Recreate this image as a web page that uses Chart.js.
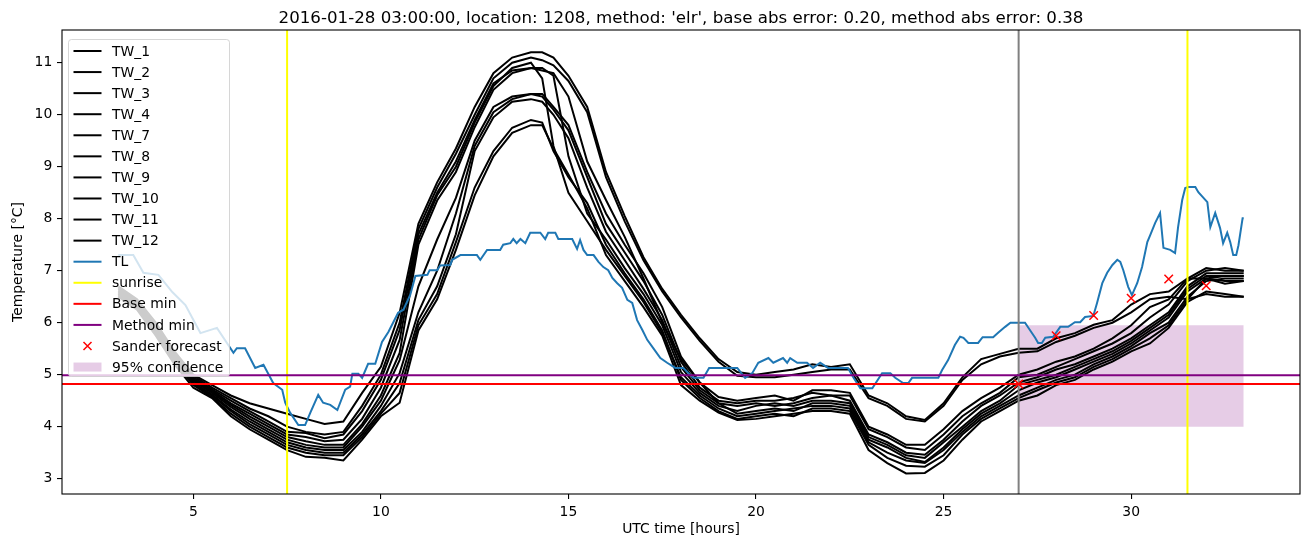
<!DOCTYPE html>
<html><head><meta charset="utf-8">
<script src="https://cdn.jsdelivr.net/npm/chart.js@4.4.0/dist/chart.umd.min.js"></script>
<style>html,body{margin:0;padding:0;background:#fff;}canvas{display:block;}</style>
</head><body>
<canvas id="c" width="1311" height="547"></canvas>
<script>
// ---------------- data ----------------
const titleText = "2016-01-28 03:00:00, location: 1208, method: 'elr', base abs error: 0.20, method abs error: 0.38";
const xTicks = [5, 10, 15, 20, 25, 30];
const yTicks = [3, 4, 5, 6, 7, 8, 9, 10, 11];
const xLimits = [1.5, 34.5];
const yLimits = [2.705, 11.63];

const hours = [3,3.5,4,4.5,5,5.5,6,6.5,7,7.5,8,8.5,9,9.5,10,10.5,11,11.5,12,12.5,13,13.5,14,14.3,14.6,
  15,15.5,16,16.5,17,17.5,18,18.5,19,19.5,20,20.5,21,21.5,22,22.5,23,23.5,24,24.5,
  25,25.5,26,26.5,27,27.5,28,28.5,29,29.5,30,30.5,31,31.5,32,32.5,33];

const TW_1 = [6.70,6.45,6.00,5.45,5.00,4.80,4.60,4.45,4.35,4.25,4.15,4.05,4.10,4.65,5.15,6.19,
  7.9,8.7,9.35,10.15,10.8,11.1,11.2,11.2,11.1,
  10.75,10.15,8.9,8.05,7.26,6.65,6.15,5.7,5.3,5.05,
  5.0,5.05,5.1,5.2,5.15,5.2,4.6,4.45,4.2,4.13,
  4.45,4.95,5.3,5.4,5.5,5.5,5.7,5.8,5.96,6.05,6.35,6.55,6.6,6.85,6.85,6.75,6.8];
const TW_2 = [6.68,6.42,5.95,5.42,4.98,4.75,4.55,4.35,4.20,4.00,3.90,3.85,3.90,4.40,5.00,6.00,
  7.8,8.6,9.25,10.0,10.7,11.0,11.1,11.05,10.95,
  10.65,10.05,8.8,7.95,7.2,6.6,6.1,5.65,5.25,4.98,
  4.95,4.95,5.0,5.05,5.1,5.1,4.55,4.4,4.15,4.1,
  4.4,4.9,5.2,5.35,5.42,5.45,5.63,5.75,5.9,6.0,6.2,6.45,6.5,6.45,6.55,6.5,6.5];
const TW_3 = [6.62,6.38,5.90,5.38,4.92,4.70,4.45,4.25,4.05,3.85,3.80,3.72,3.75,4.15,4.75,5.67,
  7.6,8.45,9.0,9.85,10.55,10.9,11.0,10.7,9.4,
  8.5,7.95,7.4,6.9,6.4,5.8,4.95,4.6,4.35,4.2,
  4.25,4.3,4.35,4.4,4.4,4.35,3.7,3.5,3.35,3.3,
  3.55,3.9,4.2,4.4,4.6,4.75,4.9,5.0,5.2,5.35,5.55,5.8,6.0,6.5,6.8,6.85,6.85];
const TW_4 = [6.60,6.35,5.88,5.35,4.90,4.68,4.42,4.20,4.00,3.80,3.72,3.65,3.65,4.05,4.60,5.42,
  7.5,8.35,8.9,9.76,10.48,10.8,10.9,10.9,10.75,
  9.2,8.1,7.6,7.05,6.55,5.95,5.05,4.65,4.4,4.3,
  4.4,4.45,4.4,4.5,4.5,4.45,3.8,3.65,3.45,3.4,
  3.7,4.0,4.3,4.5,4.8,4.9,5.0,5.15,5.3,5.45,5.65,5.9,6.15,6.65,6.9,6.9,6.9];
const TW_7 = [6.65,6.40,5.92,5.40,4.95,4.72,4.50,4.30,4.10,3.90,3.88,3.78,3.85,4.30,4.90,5.86,
  7.7,8.5,9.1,9.9,10.6,10.85,10.9,10.85,10.8,
  10.35,9.1,8.36,7.65,6.85,6.0,5.3,4.85,4.45,4.25,
  4.3,4.35,4.3,4.45,4.45,4.4,3.75,3.6,3.4,3.32,
  3.6,3.95,4.25,4.45,4.7,4.85,4.95,5.1,5.25,5.4,5.6,5.85,6.1,6.6,6.85,6.9,6.9];
const TW_8 = [6.58,6.32,5.85,5.32,4.88,4.65,4.38,4.15,3.95,3.75,3.65,3.60,3.60,4.00,4.50,5.28,
  6.7,7.6,8.4,9.5,10.15,10.35,10.4,10.4,10.15,
  9.8,8.9,8.1,7.5,6.95,6.3,5.35,4.85,4.57,4.5,
  4.55,4.6,4.5,4.7,4.7,4.65,4.0,3.85,3.65,3.65,
  3.95,4.3,4.55,4.75,5.0,5.1,5.25,5.35,5.5,5.7,5.95,6.3,6.45,6.85,7.05,7.0,7.0];
const TW_9 = [6.55,6.30,5.82,5.30,4.85,4.62,4.33,4.10,3.90,3.70,3.60,3.55,3.55,3.90,4.40,5.03,
  6.2,7.0,8.1,9.4,10.05,10.3,10.4,10.35,10.1,
  9.7,8.8,7.9,7.35,6.8,6.15,5.25,4.75,4.5,4.45,
  4.5,4.5,4.55,4.65,4.6,4.6,3.95,3.8,3.6,3.55,
  3.85,4.2,4.45,4.65,4.95,5.0,5.15,5.3,5.45,5.6,5.8,6.1,6.35,6.8,7.0,7.05,7.0];
const TW_10 = [6.55,6.30,5.80,5.28,4.82,4.60,4.30,4.05,3.85,3.65,3.55,3.50,3.50,3.85,4.30,4.84,
  6.05,6.7,7.7,9.3,9.95,10.25,10.3,10.25,10.0,
  9.55,8.6,7.75,7.2,6.65,6.05,5.15,4.7,4.45,4.4,
  4.45,4.4,4.45,4.55,4.6,4.5,3.85,3.7,3.5,3.46,
  3.75,4.1,4.4,4.6,4.85,4.95,5.1,5.2,5.35,5.5,5.7,5.95,6.2,6.7,6.95,6.95,6.95];
const TW_11 = [6.52,6.28,5.78,5.25,4.80,4.57,4.25,4.00,3.80,3.60,3.50,3.45,3.45,3.80,4.25,4.65,
  5.95,6.55,7.55,8.6,9.3,9.75,9.9,9.85,9.3,
  8.8,8.3,7.5,6.95,6.45,5.85,4.9,4.55,4.3,4.15,
  4.2,4.25,4.2,4.35,4.35,4.3,3.65,3.4,3.25,3.23,
  3.45,3.85,4.15,4.35,4.55,4.7,4.85,4.95,5.15,5.3,5.5,5.7,5.95,6.45,6.85,6.8,6.8];
const TW_12 = [6.50,6.25,5.75,5.20,4.75,4.55,4.20,3.95,3.75,3.55,3.42,3.40,3.35,3.75,4.20,4.46,
  5.85,6.45,7.4,8.45,9.2,9.65,9.8,9.8,9.35,
  8.85,8.2,7.3,6.8,6.3,5.75,4.8,4.5,4.27,4.13,
  4.15,4.2,4.25,4.3,4.3,4.25,3.55,3.3,3.1,3.11,
  3.35,3.75,4.1,4.3,4.5,4.6,4.8,4.9,5.1,5.25,5.45,5.6,5.9,6.4,6.6,6.55,6.5];

const twNames = ['TW_1','TW_2','TW_3','TW_4','TW_7','TW_8','TW_9','TW_10','TW_11','TW_12'];
const twValues = [TW_1,TW_2,TW_3,TW_4,TW_7,TW_8,TW_9,TW_10,TW_11,TW_12];

const tlHours = [3.0,3.4,3.67,4.07,4.44,4.79,5.19,5.63,6.07,6.16,6.38,6.65,6.87,7.13,7.37,7.45,7.58,7.8,7.98,8.12,
  8.33,8.46,8.65,8.84,9.05,9.18,9.24,9.4,9.5,9.66,9.85,10.03,10.2,10.46,10.6,10.78,10.92,11.24,11.3,11.5,
  11.58,11.85,11.9,12.12,12.56,12.65,12.83,13.18,13.26,13.45,13.53,13.62,13.72,13.85,13.98,14.25,14.38,14.46,14.65,14.73,
  15.1,15.23,15.31,15.4,15.5,15.67,15.8,15.93,16.06,16.17,16.3,16.43,16.57,16.7,16.83,16.97,17.1,17.26,17.45,17.63,
  17.85,18.06,18.2,18.33,18.6,18.75,19.5,19.71,19.9,20.06,20.33,20.46,20.72,20.83,20.91,21.1,21.36,21.52,21.71,21.92,
  22.45,22.6,22.78,23.1,23.36,23.58,23.71,23.92,24.06,24.16,24.86,24.96,25.12,25.3,25.44,25.53,25.66,25.92,26.04,26.32,
  26.46,26.64,26.78,27.17,27.3,27.44,27.52,27.62,27.71,27.92,28.11,28.32,28.5,28.64,28.77,28.99,29.09,29.23,29.36,29.5,
  29.63,29.71,29.79,29.92,30.02,30.16,30.29,30.43,30.51,30.64,30.77,30.86,31.04,31.17,31.25,31.36,31.44,31.52,31.71,31.79,
  32.03,32.11,32.24,32.37,32.45,32.56,32.64,32.72,32.8,32.86,32.97,33.0];
const tlTemp = [7.3,7.3,6.96,6.92,6.59,6.34,5.8,5.9,5.42,5.51,5.51,5.13,5.19,4.84,4.71,4.46,4.27,4.03,4.03,4.27,
  4.61,4.46,4.42,4.32,4.71,4.77,5.02,5.02,4.94,5.21,5.21,5.63,5.82,6.19,6.25,6.53,6.9,6.92,7.01,7.01,
  7.1,7.11,7.21,7.3,7.3,7.21,7.4,7.4,7.5,7.53,7.61,7.53,7.61,7.53,7.73,7.73,7.61,7.73,7.73,7.61,
  7.61,7.42,7.59,7.4,7.3,7.3,7.17,7.07,7.01,6.86,6.76,6.67,6.44,6.38,6.05,5.86,5.67,5.51,5.32,5.23,
  5.13,5.13,5.03,4.94,4.94,5.13,5.13,4.94,5.03,5.23,5.32,5.23,5.32,5.23,5.32,5.23,5.23,5.13,5.23,5.13,
  5.13,4.94,4.74,4.74,5.03,5.03,4.94,4.84,4.84,4.94,4.94,5.09,5.28,5.57,5.73,5.71,5.61,5.61,5.72,5.72,
  5.81,5.92,6.0,6.0,5.86,5.71,5.61,5.61,5.71,5.73,5.92,5.92,6.01,6.01,6.11,6.13,6.38,6.76,6.96,7.11,
  7.21,7.17,7.01,6.69,6.53,6.76,7.07,7.55,7.69,7.92,8.11,7.44,7.4,7.34,7.84,8.36,8.59,8.61,8.61,8.51,
  8.32,7.84,8.11,7.82,7.53,7.73,7.55,7.3,7.3,7.49,8.01,8.01];

const sanderHours = [27, 28, 29, 30, 31, 32];
const sanderTemp = [4.82, 5.75, 6.14, 6.47, 6.84, 6.71];
const sunriseHours = [7.5, 31.5];
const forecastHour = 27;
const baseMin = 4.82;
const methodMin = 4.99;
const confHours = [27, 33];
const confLow = 4.0;
const confHigh = 5.95;

// ---------------- chart ----------------
const FONT = 'DejaVu Sans';
Chart.defaults.font.family = FONT;
Chart.defaults.color = '#000';

const pts = (xs, ys) => xs.map((x, i) => ({x: x, y: ys[i]}));
const datasets = [];

datasets.push({
  label: '95% confidence', data: pts(confHours, [confHigh, confHigh]),
  fill: {value: confLow}, backgroundColor: 'rgba(128,0,128,0.2)', borderWidth: 0,
  pointRadius: 0, order: 20
});
twNames.forEach((n, i) => datasets.push({
  label: n, data: pts(hours, twValues[i]), borderColor: '#000', borderWidth: 2,
  pointRadius: 0, fill: false, order: 15
}));
datasets.push({label: 'TL', data: pts(tlHours, tlTemp), borderColor: '#1f77b4', borderWidth: 2,
  pointRadius: 0, fill: false, order: 12});
sunriseHours.forEach(h => datasets.push({label: 'sunrise', data: pts([h, h], yLimits),
  borderColor: '#ffff00', borderWidth: 2, pointRadius: 0, fill: false, order: 10}));
datasets.push({label: 'now', data: pts([forecastHour, forecastHour], yLimits),
  borderColor: '#808080', borderWidth: 2, pointRadius: 0, fill: false, order: 10});
datasets.push({label: 'Base min', data: pts(xLimits, [baseMin, baseMin]),
  borderColor: '#ff0000', borderWidth: 2, pointRadius: 0, fill: false, order: 8});
datasets.push({label: 'Method min', data: pts(xLimits, [methodMin, methodMin]),
  borderColor: '#800080', borderWidth: 2, pointRadius: 0, fill: false, order: 7});
datasets.push({label: 'Sander forecast', data: pts(sanderHours, sanderTemp), showLine: false,
  pointStyle: 'crossRot', pointRadius: 6, pointBorderColor: '#ff0000', pointBorderWidth: 1.5,
  borderColor: '#ff0000', backgroundColor: '#ff0000', order: 5});

const legendEntries = twNames.map(n => ({label: n, kind: 'line', color: '#000'})).concat([
  {label: 'TL', kind: 'line', color: '#1f77b4'},
  {label: 'sunrise', kind: 'line', color: '#ffff00'},
  {label: 'Base min', kind: 'line', color: '#ff0000'},
  {label: 'Method min', kind: 'line', color: '#800080'},
  {label: 'Sander forecast', kind: 'x', color: '#ff0000'},
  {label: '95% confidence', kind: 'patch', color: 'rgba(128,0,128,0.2)'}
]);

const titlePlugin = {
  id: 'mplTitle',
  afterDraw(chart) {
    const {ctx, chartArea: a} = chart;
    ctx.save();
    ctx.font = '16.67px "' + FONT + '"';
    ctx.fillStyle = '#000'; ctx.textAlign = 'center'; ctx.textBaseline = 'alphabetic';
    ctx.fillText(titleText, (a.left + a.right) / 2, a.top - 7);
    ctx.restore();
  }
};

const framePlugin = {
  id: 'frame',
  afterDatasetsDraw(chart) {
    const {ctx, chartArea: a} = chart;
    ctx.save();
    ctx.strokeStyle = '#000'; ctx.lineWidth = 1.1;
    ctx.strokeRect(a.left, a.top, a.right - a.left, a.bottom - a.top);
    ctx.restore();
  }
};

const legendPlugin = {
  id: 'mplLegend',
  afterDraw(chart) {
    const ctx = chart.ctx;
    const a = chart.chartArea;
    const x0 = a.left + 6.5, y0 = a.top + 9.5, w = 161, h = 337, r = 3;
    ctx.save();
    ctx.beginPath();
    ctx.moveTo(x0 + r, y0);
    ctx.lineTo(x0 + w - r, y0); ctx.quadraticCurveTo(x0 + w, y0, x0 + w, y0 + r);
    ctx.lineTo(x0 + w, y0 + h - r); ctx.quadraticCurveTo(x0 + w, y0 + h, x0 + w - r, y0 + h);
    ctx.lineTo(x0 + r, y0 + h); ctx.quadraticCurveTo(x0, y0 + h, x0, y0 + h - r);
    ctx.lineTo(x0, y0 + r); ctx.quadraticCurveTo(x0, y0, x0 + r, y0);
    ctx.closePath();
    ctx.fillStyle = 'rgba(255,255,255,0.8)'; ctx.fill();
    ctx.strokeStyle = 'rgba(204,204,204,0.8)'; ctx.lineWidth = 1; ctx.stroke();
    const hx0 = x0 + 5, hx1 = x0 + 33, tx = x0 + 43.5;
    ctx.font = '13.9px "' + FONT + '"';
    ctx.textBaseline = 'middle'; ctx.textAlign = 'left';
    legendEntries.forEach((e, i) => {
      const y = y0 + 11.5 + i * 21.07;
      if (e.kind === 'line') {
        ctx.strokeStyle = e.color; ctx.lineWidth = 2;
        ctx.beginPath(); ctx.moveTo(hx0, y); ctx.lineTo(hx1, y); ctx.stroke();
      } else if (e.kind === 'x') {
        const cx = (hx0 + hx1) / 2, s = 4;
        ctx.strokeStyle = e.color; ctx.lineWidth = 1.5;
        ctx.beginPath(); ctx.moveTo(cx - s, y - s); ctx.lineTo(cx + s, y + s);
        ctx.moveTo(cx - s, y + s); ctx.lineTo(cx + s, y - s); ctx.stroke();
      } else {
        ctx.fillStyle = e.color; ctx.fillRect(hx0, y - 4.5, hx1 - hx0, 9);
      }
      ctx.fillStyle = '#000';
      ctx.fillText(e.label, tx, y + 1);
    });
    ctx.restore();
  }
};

new Chart(document.getElementById('c'), {
  type: 'line',
  data: {datasets: datasets},
  options: {
    responsive: false, animation: false, devicePixelRatio: 1,
    layout: {padding: {left: 0, right: 11, top: 30, bottom: 0}},
    plugins: {
      legend: {display: false}, tooltip: {enabled: false}, title: {display: false}
    },
    scales: {
      x: {
        type: 'linear', min: xLimits[0], max: xLimits[1],
        afterFit: s => { s.height = 53; },
        afterBuildTicks: s => { s.ticks = xTicks.map(v => ({value: v})); },
        grid: {drawOnChartArea: false, drawTicks: true, tickLength: 5, color: '#000', lineWidth: 1.1},
        border: {display: false},
        ticks: {font: {size: 13.9}, color: '#000', padding: 4.7, maxRotation: 0, autoSkip: false},
        title: {display: true, text: 'UTC time [hours]', color: '#000', font: {size: 13.9}, padding: {top: 0, bottom: 9.7}}
      },
      y: {
        type: 'linear', min: yLimits[0], max: yLimits[1],
        afterFit: s => { s.width = 62; },
        afterBuildTicks: s => { s.ticks = yTicks.map(v => ({value: v})); },
        grid: {drawOnChartArea: false, drawTicks: true, tickLength: 5, color: '#000', lineWidth: 1.1},
        border: {display: false},
        ticks: {font: {size: 13.9}, color: '#000', padding: 4.7, autoSkip: false},
        title: {display: true, text: 'Temperature [°C]', color: '#000', font: {size: 13.9}, padding: {top: 9.7, bottom: 0}}
      }
    }
  },
  plugins: [framePlugin, legendPlugin, titlePlugin]
});
</script>
</body></html>
